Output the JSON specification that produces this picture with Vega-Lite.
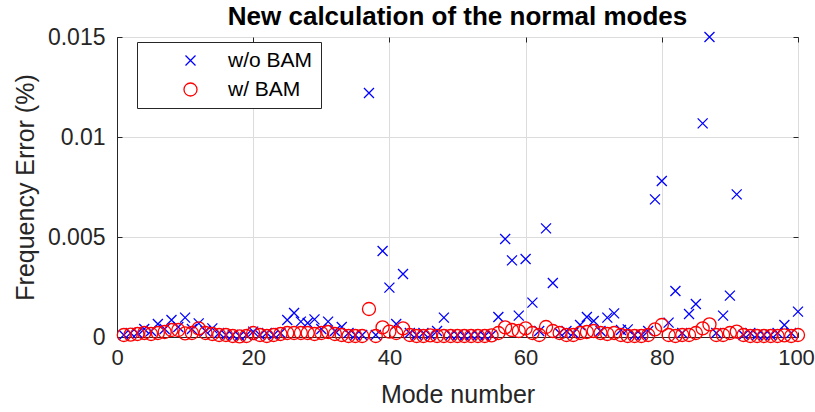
{
  "$schema": "https://vega.github.io/schema/vega-lite/v6.json",
  "autosize": "none",
  "width": 681,
  "height": 300,
  "padding": {"left": 117, "top": 37, "right": 17, "bottom": 75},
  "background": "white",
  "title": {
    "text": "New calculation of the normal modes",
    "font": "Liberation Sans",
    "fontSize": 26,
    "fontWeight": "bold",
    "color": "#000000",
    "anchor": "middle",
    "offset": -4
  },
  "data": {
    "values": [
      {"mode": 1, "w/o BAM": 0.0001, "w/ BAM": 0.0001},
      {"mode": 2, "w/o BAM": 0.0002, "w/ BAM": 0.00012},
      {"mode": 3, "w/o BAM": 0.0002, "w/ BAM": 0.00015},
      {"mode": 4, "w/o BAM": 0.0004, "w/ BAM": 0.0002},
      {"mode": 5, "w/o BAM": 0.0003, "w/ BAM": 0.00015},
      {"mode": 6, "w/o BAM": 0.00065, "w/ BAM": 0.0002},
      {"mode": 7, "w/o BAM": 0.0004, "w/ BAM": 0.00025},
      {"mode": 8, "w/o BAM": 0.00085, "w/ BAM": 0.00035},
      {"mode": 9, "w/o BAM": 0.0005, "w/ BAM": 0.00035},
      {"mode": 10, "w/o BAM": 0.00097, "w/ BAM": 0.00018},
      {"mode": 11, "w/o BAM": 0.0004, "w/ BAM": 0.0002},
      {"mode": 12, "w/o BAM": 0.00068, "w/ BAM": 0.00043},
      {"mode": 13, "w/o BAM": 0.0003, "w/ BAM": 0.0002},
      {"mode": 14, "w/o BAM": 0.00043, "w/ BAM": 0.00015},
      {"mode": 15, "w/o BAM": 0.0002, "w/ BAM": 0.0001},
      {"mode": 16, "w/o BAM": 0.0001, "w/ BAM": 0.0001},
      {"mode": 17, "w/o BAM": 0.0001, "w/ BAM": 0.00005},
      {"mode": 18, "w/o BAM": 0.00005, "w/ BAM": 0.00003},
      {"mode": 19, "w/o BAM": 0.0001, "w/ BAM": 0.00005},
      {"mode": 20, "w/o BAM": 0.00027, "w/ BAM": 0.0002},
      {"mode": 21, "w/o BAM": 0.0001, "w/ BAM": 0.0001},
      {"mode": 22, "w/o BAM": 0.0002, "w/ BAM": 0.00005},
      {"mode": 23, "w/o BAM": 0.0001, "w/ BAM": 0.0001},
      {"mode": 24, "w/o BAM": 0.0002, "w/ BAM": 0.00015},
      {"mode": 25, "w/o BAM": 0.00085, "w/ BAM": 0.0002},
      {"mode": 26, "w/o BAM": 0.0012, "w/ BAM": 0.0002},
      {"mode": 27, "w/o BAM": 0.00077, "w/ BAM": 0.0002},
      {"mode": 28, "w/o BAM": 0.0007, "w/ BAM": 0.0002},
      {"mode": 29, "w/o BAM": 0.00088, "w/ BAM": 0.00015},
      {"mode": 30, "w/o BAM": 0.0004, "w/ BAM": 0.0002},
      {"mode": 31, "w/o BAM": 0.00077, "w/ BAM": 0.00025},
      {"mode": 32, "w/o BAM": 0.0003, "w/ BAM": 0.00015},
      {"mode": 33, "w/o BAM": 0.0005, "w/ BAM": 0.0001},
      {"mode": 34, "w/o BAM": 0.0002, "w/ BAM": 0.00005},
      {"mode": 35, "w/o BAM": 0.0001, "w/ BAM": 0.00005},
      {"mode": 36, "w/o BAM": 0.0001, "w/ BAM": 0.00005},
      {"mode": 37, "w/o BAM": 0.0122, "w/ BAM": 0.0014},
      {"mode": 38, "w/o BAM": 0.0001, "w/ BAM": 0.00005},
      {"mode": 39, "w/o BAM": 0.0043, "w/ BAM": 0.00048},
      {"mode": 40, "w/o BAM": 0.00247, "w/ BAM": 0.00027},
      {"mode": 41, "w/o BAM": 0.00065, "w/ BAM": 0.0002},
      {"mode": 42, "w/o BAM": 0.00315, "w/ BAM": 0.00043},
      {"mode": 43, "w/o BAM": 0.0002, "w/ BAM": 0.0001},
      {"mode": 44, "w/o BAM": 0.0001, "w/ BAM": 0.00005},
      {"mode": 45, "w/o BAM": 0.0002, "w/ BAM": 0.00005},
      {"mode": 46, "w/o BAM": 0.0001, "w/ BAM": 0.00008},
      {"mode": 47, "w/o BAM": 0.0003, "w/ BAM": 0.00005},
      {"mode": 48, "w/o BAM": 0.00097, "w/ BAM": 0.00005},
      {"mode": 49, "w/o BAM": 0.0001, "w/ BAM": 0.00005},
      {"mode": 50, "w/o BAM": 0.0001, "w/ BAM": 0.00005},
      {"mode": 51, "w/o BAM": 0.00005, "w/ BAM": 0.00005},
      {"mode": 52, "w/o BAM": 0.0001, "w/ BAM": 0.00005},
      {"mode": 53, "w/o BAM": 0.0001, "w/ BAM": 0.00005},
      {"mode": 54, "w/o BAM": 0.00005, "w/ BAM": 0.00005},
      {"mode": 55, "w/o BAM": 0.0001, "w/ BAM": 0.00008},
      {"mode": 56, "w/o BAM": 0.001, "w/ BAM": 0.0002},
      {"mode": 57, "w/o BAM": 0.0049, "w/ BAM": 0.00048},
      {"mode": 58, "w/o BAM": 0.00383, "w/ BAM": 0.00035},
      {"mode": 59, "w/o BAM": 0.00107, "w/ BAM": 0.0003},
      {"mode": 60, "w/o BAM": 0.0039, "w/ BAM": 0.00043},
      {"mode": 61, "w/o BAM": 0.00172, "w/ BAM": 0.0002},
      {"mode": 62, "w/o BAM": 0.0003, "w/ BAM": 0.0001},
      {"mode": 63, "w/o BAM": 0.00543, "w/ BAM": 0.0005},
      {"mode": 64, "w/o BAM": 0.0027, "w/ BAM": 0.0003},
      {"mode": 65, "w/o BAM": 0.0002, "w/ BAM": 0.0002},
      {"mode": 66, "w/o BAM": 0.0003, "w/ BAM": 0.0001},
      {"mode": 67, "w/o BAM": 0.0002, "w/ BAM": 0.0001},
      {"mode": 68, "w/o BAM": 0.0006, "w/ BAM": 0.0002},
      {"mode": 69, "w/o BAM": 0.001, "w/ BAM": 0.00025},
      {"mode": 70, "w/o BAM": 0.0008, "w/ BAM": 0.0003},
      {"mode": 71, "w/o BAM": 0.0003, "w/ BAM": 0.0002},
      {"mode": 72, "w/o BAM": 0.00097, "w/ BAM": 0.00015},
      {"mode": 73, "w/o BAM": 0.00118, "w/ BAM": 0.0002},
      {"mode": 74, "w/o BAM": 0.00035, "w/ BAM": 0.0001},
      {"mode": 75, "w/o BAM": 0.00038, "w/ BAM": 0.00005},
      {"mode": 76, "w/o BAM": 0.0001, "w/ BAM": 0.00005},
      {"mode": 77, "w/o BAM": 0.0001, "w/ BAM": 0.00005},
      {"mode": 78, "w/o BAM": 0.0003, "w/ BAM": 0.0001},
      {"mode": 79, "w/o BAM": 0.00688, "w/ BAM": 0.00038},
      {"mode": 80, "w/o BAM": 0.0078, "w/ BAM": 0.0006},
      {"mode": 81, "w/o BAM": 0.00072, "w/ BAM": 0.0001},
      {"mode": 82, "w/o BAM": 0.0023, "w/ BAM": 0.00005},
      {"mode": 83, "w/o BAM": 0.0002, "w/ BAM": 0.0001},
      {"mode": 84, "w/o BAM": 0.00115, "w/ BAM": 0.0001},
      {"mode": 85, "w/o BAM": 0.00165, "w/ BAM": 0.0002},
      {"mode": 86, "w/o BAM": 0.01068, "w/ BAM": 0.00043},
      {"mode": 87, "w/o BAM": 0.015, "w/ BAM": 0.00063},
      {"mode": 88, "w/o BAM": 0.0002, "w/ BAM": 0.0001},
      {"mode": 89, "w/o BAM": 0.00107, "w/ BAM": 0.0001},
      {"mode": 90, "w/o BAM": 0.00207, "w/ BAM": 0.0002},
      {"mode": 91, "w/o BAM": 0.00713, "w/ BAM": 0.00027},
      {"mode": 92, "w/o BAM": 0.0001, "w/ BAM": 0.0001},
      {"mode": 93, "w/o BAM": 0.0002, "w/ BAM": 0.00005},
      {"mode": 94, "w/o BAM": 0.0001, "w/ BAM": 0.00005},
      {"mode": 95, "w/o BAM": 0.0001, "w/ BAM": 0.00005},
      {"mode": 96, "w/o BAM": 0.0001, "w/ BAM": 0.00005},
      {"mode": 97, "w/o BAM": 0.0002, "w/ BAM": 0.00005},
      {"mode": 98, "w/o BAM": 0.0006, "w/ BAM": 0.00008},
      {"mode": 99, "w/o BAM": 0.0002, "w/ BAM": 0.00005},
      {"mode": 100, "w/o BAM": 0.00127, "w/ BAM": 0.0001}
    ]
  },
  "transform": [
    {"fold": ["w/o BAM", "w/ BAM"], "as": ["series", "err"]}
  ],
  "encoding": {
    "x": {"field": "mode", "type": "quantitative"},
    "y": {"field": "err", "type": "quantitative"},
    "color": {
      "field": "series",
      "type": "nominal",
      "scale": {"domain": ["w/o BAM", "w/ BAM"], "range": ["#0000ff", "#ff0000"]},
      "legend": {
        "title": null,
        "orient": "none",
        "legendX": 20,
        "legendY": 5,
        "padding": 8,
        "strokeColor": "#262626",
        "fillColor": "white",
        "labelFont": "Liberation Sans",
        "labelFontSize": 21,
        "labelColor": "#000000",
        "symbolOffset": 35,
        "labelOffset": 27,
        "rowPadding": 7,
        "symbolStrokeWidth": 1.3
      }
    },
    "shape": {
      "field": "series",
      "type": "nominal",
      "scale": {"domain": ["w/o BAM", "w/ BAM"], "range": ["M-1,-1L1,1M-1,1L1,-1", "circle"]}
    },
    "size": {
      "field": "series",
      "type": "nominal",
      "scale": {"domain": ["w/o BAM", "w/ BAM"], "range": [100, 170]}
    }
  },
  "layer": [
    {
      "transform": [{"filter": "datum.series === 'w/o BAM'"}],
      "mark": {"type": "point", "filled": false, "strokeWidth": 1.3, "opacity": 1},
      "encoding": {
        "x": {
          "field": "mode",
          "type": "quantitative",
          "scale": {"domain": [0, 100], "nice": false},
          "axis": {
            "title": "Mode number",
            "values": [0, 20, 40, 60, 80, 100],
            "grid": true,
            "labelFlush": false,
            "labelFontSize": 22,
            "labelOffset": {"condition": {"test": "datum.value == 100", "value": -2}, "value": 0},
            "tickSize": -5,
            "labelPadding": 15,
            "titlePadding": 14
          }
        },
        "y": {
          "field": "err",
          "type": "quantitative",
          "scale": {"domain": [0, 0.015], "nice": false, "zero": true},
          "axis": {
            "title": "Frequency Error (%)",
            "values": [0, 0.005, 0.01, 0.015],
            "format": "~f",
            "grid": true,
            "labelFlush": false,
            "tickSize": -5,
            "labelPadding": 17,
            "titlePadding": 9
          }
        }
      }
    },
    {
      "transform": [{"filter": "datum.series === 'w/ BAM'"}],
      "mark": {"type": "point", "filled": false, "strokeWidth": 1.3, "opacity": 1},
      "encoding": {
        "x": {
          "field": "mode",
          "type": "quantitative",
          "axis": {
            "orient": "top",
            "values": [0, 20, 40, 60, 80, 100],
            "labels": false,
            "grid": false,
            "domain": false,
            "tickSize": -5,
            "title": null
          }
        },
        "y": {
          "field": "err",
          "type": "quantitative",
          "axis": {
            "orient": "right",
            "values": [0, 0.005, 0.01, 0.015],
            "labels": false,
            "grid": false,
            "domain": false,
            "tickSize": -5,
            "title": null
          }
        }
      }
    }
  ],
  "resolve": {"axis": {"x": "independent", "y": "independent"}},
  "config": {
    "view": {"stroke": "#262626", "strokeWidth": 1},
    "axis": {
      "labelFont": "Liberation Sans",
      "labelFontSize": 23,
      "labelColor": "#262626",
      "titleFont": "Liberation Sans",
      "titleFontSize": 25,
      "titleFontWeight": "normal",
      "titleColor": "#262626",
      "domainColor": "#262626",
      "domainWidth": 1,
      "tickColor": "#262626",
      "tickWidth": 1,
      "gridColor": "#dcdcdc",
      "gridWidth": 1
    }
  }
}
